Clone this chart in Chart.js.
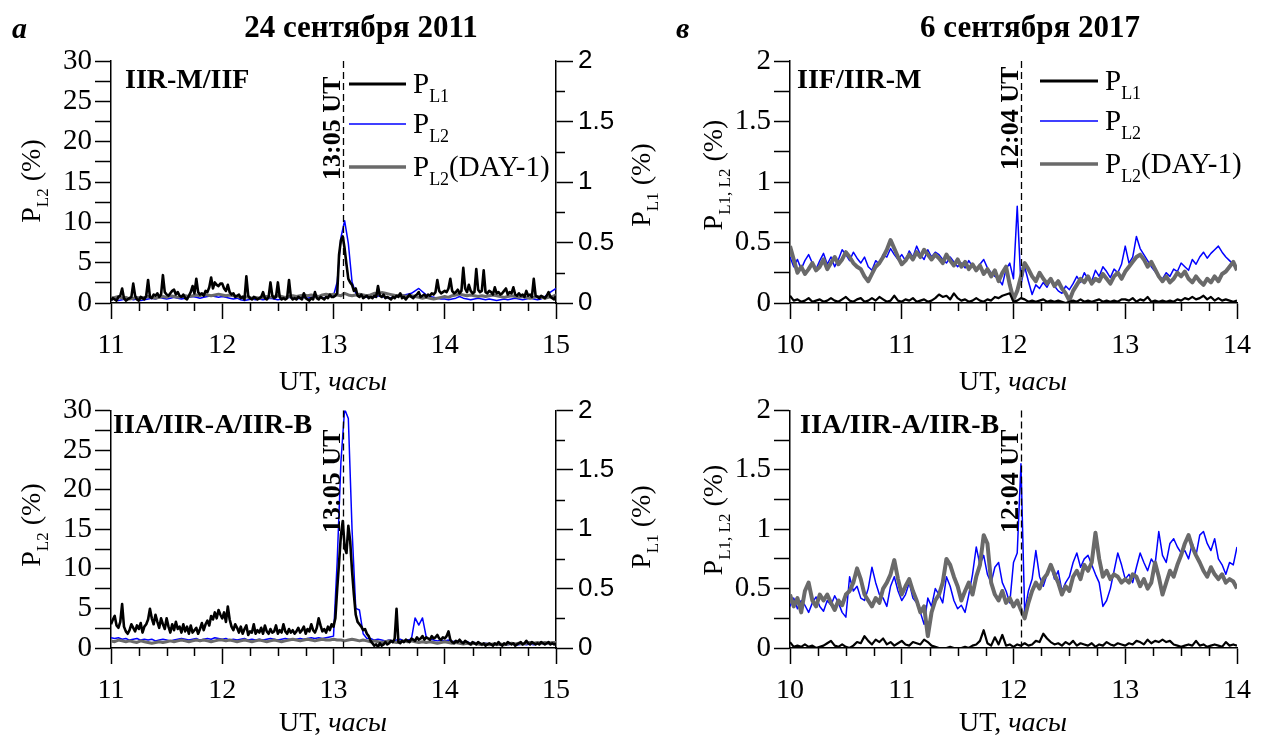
<!DOCTYPE html>
<html>
<head>
<meta charset="utf-8">
<script src="https://cdn.jsdelivr.net/npm/chart.js@4.4.0/dist/chart.umd.min.js"></script>
<style>
body{margin:0;background:#fff;}
#wrap{position:relative;width:1264px;height:740px;overflow:hidden;}
canvas{position:absolute;}
</style>
</head>
<body>
<div id="wrap">
<canvas id="cA" width="660" height="400" style="left:0;top:0"></canvas>
<canvas id="cB" width="660" height="350" style="left:0;top:390px"></canvas>
<canvas id="cV" width="604" height="400" style="left:660px;top:0"></canvas>
<canvas id="cG" width="604" height="350" style="left:660px;top:390px"></canvas>
</div>
<script>
const SERIF='"Liberation Serif","Times New Roman",serif';
const SANS='"Liberation Sans",Arial,sans-serif';
const SPAN=4; // every panel covers 4 hours, samples evenly spaced

// 24 сентября 2011, 11-15 UT, IIR-M/IIF. P_L1 in % (right axis, 1-min samples)
const aL1=[
0.02,0.04,0.03,0.02,0.05,0.06,0.12,0.04,0.02,0.03,
0.04,0.05,0.16,0.06,0.03,0.02,0.05,0.04,0.03,0.06,
0.19,0.05,0.04,0.07,0.06,0.08,0.05,0.07,0.23,0.09,
0.07,0.06,0.08,0.10,0.11,0.07,0.09,0.06,0.05,0.07,
0.04,0.03,0.06,0.09,0.14,0.08,0.20,0.09,0.07,0.08,
0.06,0.10,0.09,0.13,0.21,0.12,0.17,0.15,0.14,0.16,
0.16,0.12,0.10,0.15,0.09,0.07,0.08,0.05,0.06,0.07,
0.04,0.05,0.03,0.22,0.06,0.04,0.03,0.05,0.04,0.03,
0.04,0.05,0.09,0.04,0.03,0.05,0.17,0.06,0.04,0.05,
0.17,0.05,0.03,0.04,0.03,0.04,0.19,0.05,0.03,0.04,
0.03,0.05,0.04,0.03,0.08,0.04,0.03,0.02,0.04,0.03,
0.09,0.04,0.03,0.05,0.04,0.03,0.05,0.04,0.07,0.05,
0.05,0.06,0.08,0.40,0.52,0.55,0.45,0.32,0.20,0.17,
0.15,0.10,0.12,0.06,0.05,0.07,0.04,0.05,0.06,0.04,
0.05,0.04,0.06,0.05,0.14,0.06,0.05,0.07,0.04,0.05,
0.04,0.03,0.05,0.04,0.06,0.05,0.08,0.04,0.05,0.03,
0.05,0.07,0.05,0.04,0.06,0.07,0.09,0.05,0.06,0.07,
0.05,0.07,0.06,0.08,0.07,0.09,0.19,0.10,0.08,0.09,
0.10,0.09,0.12,0.20,0.10,0.08,0.09,0.11,0.08,0.10,
0.29,0.12,0.09,0.15,0.10,0.08,0.09,0.28,0.11,0.09,
0.10,0.27,0.09,0.08,0.10,0.09,0.07,0.13,0.08,0.09,
0.07,0.08,0.10,0.12,0.07,0.09,0.08,0.13,0.07,0.06,
0.08,0.06,0.07,0.05,0.10,0.06,0.07,0.05,0.20,0.06,
0.05,0.04,0.06,0.05,0.04,0.06,0.09,0.05,0.04,0.03,
0.06];
// P_L2 in % (left axis, 2-min samples)
const aL2=[
0.4,0.5,0.3,0.4,0.5,0.6,0.4,0.5,0.3,0.4,
0.5,0.6,0.5,0.7,0.6,0.5,0.6,0.7,0.6,0.5,
0.6,0.7,0.8,0.7,0.6,0.7,0.8,0.9,0.8,0.7,
0.8,0.7,0.6,0.5,0.6,0.4,0.3,0.4,0.5,0.4,
0.5,0.4,0.5,0.6,0.5,0.4,0.5,0.6,0.7,0.6,
0.5,0.6,0.7,0.6,0.7,0.8,0.7,0.6,0.7,0.8,
0.9,2.6,8.1,10.2,7.4,2.6,1.2,0.9,0.8,0.7,
0.8,0.7,0.9,0.8,0.7,0.6,0.7,0.8,0.9,1.0,
1.1,1.2,1.5,1.8,1.4,1.0,0.8,0.7,0.6,0.5,
0.5,0.4,0.5,0.6,0.8,0.6,0.5,0.4,0.5,0.6,
0.5,0.4,0.5,0.4,0.3,0.4,0.5,0.4,0.5,0.6,
0.5,0.4,0.5,0.6,0.5,0.4,0.5,0.8,1.2,1.5,
1.8];
const aL2prev=[
0.6,0.7,0.8,0.6,0.7,0.5,0.6,0.7,0.6,0.7,
0.8,0.7,0.6,0.7,0.8,0.7,0.9,0.8,0.7,0.8,
0.9,0.8,0.9,1.0,0.9,1.1,1.0,0.9,1.0,1.1,
1.0,0.9,1.0,0.9,0.8,0.7,0.8,0.7,0.6,0.7,
0.6,0.7,0.8,0.7,0.8,0.9,0.8,0.7,0.8,0.9,
0.8,0.9,1.0,0.9,1.0,0.9,0.8,1.0,1.1,1.0,
1.1,1.0,0.9,1.2,1.0,0.9,1.0,1.1,1.0,0.9,
1.0,1.2,1.1,1.3,1.2,1.1,1.0,0.9,1.0,0.9,
0.8,0.9,0.8,0.7,0.6,0.7,0.6,0.5,0.6,0.7,
0.8,0.7,0.9,1.0,1.1,1.0,0.9,1.0,0.9,0.8,
0.9,0.8,0.9,1.0,0.9,0.8,0.7,0.8,0.9,0.8,
0.7,0.8,0.7,0.6,0.7,0.8,0.7,0.6,0.7,0.8,
1.0];

// 24 сентября 2011, IIA/IIR-A/IIR-B (P_L1 1-min samples)
const bL1=[
0.20,0.24,0.27,0.19,0.17,0.22,0.37,0.18,0.14,0.12,
0.15,0.20,0.17,0.14,0.19,0.16,0.21,0.13,0.18,0.20,
0.24,0.33,0.25,0.20,0.28,0.22,0.17,0.25,0.20,0.16,
0.25,0.18,0.13,0.20,0.15,0.22,0.16,0.18,0.13,0.20,
0.14,0.18,0.12,0.19,0.13,0.15,0.17,0.12,0.16,0.21,
0.15,0.20,0.23,0.19,0.27,0.24,0.30,0.25,0.32,0.28,
0.25,0.30,0.22,0.35,0.24,0.18,0.15,0.20,0.17,0.13,
0.18,0.12,0.16,0.19,0.11,0.14,0.13,0.20,0.12,0.15,
0.13,0.17,0.12,0.19,0.14,0.12,0.16,0.13,0.14,0.19,
0.12,0.15,0.13,0.20,0.14,0.12,0.16,0.13,0.15,0.12,
0.14,0.17,0.13,0.15,0.18,0.12,0.16,0.14,0.20,0.15,
0.13,0.17,0.25,0.19,0.14,0.16,0.13,0.18,0.15,0.20,
0.18,0.25,0.50,0.72,0.95,1.07,0.85,0.80,1.03,0.90,
0.65,0.45,0.28,0.22,0.20,0.18,0.15,0.16,0.12,0.10,
0.06,0.04,0.02,0.03,0.01,0.04,0.02,0.03,0.05,0.03,
0.04,0.06,0.05,0.08,0.33,0.05,0.04,0.06,0.05,0.07,
0.06,0.05,0.08,0.07,0.06,0.09,0.07,0.08,0.10,0.07,
0.09,0.08,0.07,0.10,0.08,0.09,0.11,0.08,0.07,0.09,
0.08,0.10,0.14,0.07,0.05,0.04,0.06,0.05,0.07,0.05,
0.04,0.06,0.05,0.04,0.03,0.05,0.04,0.03,0.05,0.04,
0.03,0.04,0.02,0.03,0.04,0.03,0.02,0.04,0.03,0.05,
0.03,0.02,0.04,0.03,0.05,0.04,0.03,0.04,0.02,0.03,
0.04,0.05,0.03,0.04,0.06,0.04,0.03,0.05,0.04,0.03,
0.04,0.03,0.05,0.04,0.03,0.04,0.05,0.03,0.04,0.03,
0.04];
const bL2=[
1.3,1.2,1.3,1.1,1.2,1.0,1.1,1.2,1.0,1.1,
1.0,1.1,0.9,1.0,1.1,1.0,0.9,1.0,1.1,1.2,
1.1,1.0,1.1,1.2,1.0,1.1,1.2,1.1,1.3,1.2,
1.1,1.2,1.0,1.1,1.0,1.1,1.2,1.0,1.1,1.0,
1.1,1.0,1.1,1.2,1.1,1.0,1.1,1.2,1.1,1.0,
1.1,1.2,1.1,1.2,1.3,1.2,1.3,1.2,1.3,1.4,
1.5,11.0,23.5,30.2,29.0,15.0,5.0,4.8,1.8,1.2,
1.2,1.0,1.1,1.0,0.9,1.0,0.9,1.0,1.1,0.9,
1.0,1.1,3.8,2.9,3.8,1.4,1.1,1.0,0.9,1.0,
0.9,1.0,0.8,0.9,0.8,0.7,0.8,0.6,0.7,0.6,
0.5,0.6,0.5,0.4,0.5,0.4,0.5,0.4,0.5,0.4,
0.4,0.5,0.4,0.5,0.4,0.5,0.6,0.5,0.6,0.5,
0.6];
const bL2prev=[
0.9,0.8,1.0,0.9,0.8,0.9,0.8,0.7,0.9,0.8,
0.7,0.6,0.7,0.8,0.7,0.8,0.9,0.8,0.9,1.0,
0.9,0.8,0.9,1.0,0.9,1.0,0.9,0.8,0.9,1.0,
1.0,0.9,1.0,0.9,0.8,0.9,1.0,0.9,0.8,0.9,
1.0,0.9,0.8,0.9,1.0,0.9,0.8,0.9,1.0,1.1,
1.0,0.9,1.0,1.1,1.0,0.9,1.0,1.1,1.0,1.0,
1.1,1.0,1.0,0.9,1.0,1.1,1.0,0.9,1.0,0.9,
0.8,0.9,0.8,0.7,0.8,0.9,0.8,0.7,0.8,0.9,
0.8,0.9,0.8,0.7,0.8,0.7,0.8,0.7,0.6,0.7,
0.8,0.7,0.6,0.7,0.6,0.5,0.6,0.5,0.6,0.5,
0.4,0.5,0.4,0.5,0.4,0.5,0.4,0.5,0.6,0.5,
0.6,0.5,0.6,0.7,0.6,0.7,0.6,0.7,0.6,0.7,
0.7];

// 6 сентября 2017, 10-14 UT, IIF/IIR-M (2-min samples)
const vL1=[
0.06,0.02,0.03,0.01,0.02,0.04,0.01,0.02,0.03,0.01,
0.02,0.04,0.02,0.01,0.03,0.05,0.02,0.01,0.03,0.04,
0.01,0.02,0.04,0.02,0.05,0.03,0.01,0.02,0.06,0.02,
0.01,0.03,0.02,0.04,0.01,0.02,0.03,0.01,0.02,0.04,
0.07,0.05,0.06,0.03,0.08,0.04,0.02,0.03,0.01,0.02,
0.04,0.02,0.01,0.03,0.02,0.05,0.04,0.06,0.07,0.08,
0.01,0.02,0.04,0.03,0.01,0.02,0.01,0.02,0.03,0.01,
0.02,0.01,0.02,0.01,0.00,0.01,0.02,0.01,0.03,0.01,
0.02,0.01,0.02,0.03,0.01,0.02,0.01,0.02,0.01,0.03,
0.03,0.02,0.04,0.01,0.03,0.02,0.05,0.01,0.02,0.01,
0.02,0.01,0.02,0.01,0.03,0.02,0.04,0.03,0.05,0.03,
0.04,0.06,0.03,0.05,0.02,0.04,0.02,0.03,0.02,0.01,
0.02];
const vL2=[
0.38,0.30,0.36,0.28,0.35,0.40,0.33,0.28,0.35,0.41,
0.32,0.38,0.30,0.36,0.44,0.40,0.35,0.42,0.37,0.33,
0.38,0.30,0.27,0.35,0.32,0.40,0.38,0.45,0.40,0.36,
0.40,0.35,0.43,0.38,0.47,0.40,0.36,0.44,0.38,0.42,
0.40,0.36,0.33,0.38,0.34,0.30,0.33,0.29,0.35,0.30,
0.27,0.32,0.36,0.29,0.25,0.22,0.20,0.15,0.28,0.33,
0.20,0.80,0.15,0.30,0.18,0.07,0.15,0.12,0.17,0.13,
0.19,0.14,0.10,0.08,0.14,0.11,0.16,0.22,0.17,0.25,
0.20,0.18,0.27,0.22,0.30,0.26,0.21,0.28,0.25,0.32,
0.47,0.33,0.38,0.55,0.45,0.40,0.35,0.30,0.26,0.22,
0.20,0.25,0.22,0.28,0.26,0.33,0.30,0.27,0.36,0.32,
0.38,0.42,0.37,0.41,0.44,0.47,0.42,0.38,0.35,0.32,
0.28];
const vL2prev=[
0.47,0.36,0.25,0.30,0.24,0.28,0.33,0.27,0.30,0.36,
0.28,0.33,0.38,0.32,0.36,0.42,0.38,0.33,0.30,0.28,
0.22,0.18,0.24,0.30,0.33,0.38,0.44,0.52,0.45,0.38,
0.32,0.35,0.40,0.36,0.42,0.38,0.44,0.40,0.36,0.40,
0.37,0.33,0.40,0.35,0.31,0.36,0.30,0.34,0.28,0.32,
0.27,0.31,0.24,0.28,0.22,0.27,0.18,0.25,0.30,0.15,
0.03,0.10,0.22,0.33,0.28,0.22,0.18,0.25,0.20,0.16,
0.20,0.14,0.18,0.12,0.08,0.02,0.10,0.15,0.20,0.17,
0.22,0.16,0.20,0.18,0.24,0.20,0.16,0.22,0.25,0.20,
0.26,0.30,0.34,0.38,0.40,0.36,0.30,0.34,0.28,0.22,
0.18,0.22,0.17,0.20,0.25,0.22,0.26,0.20,0.17,0.22,
0.18,0.15,0.20,0.17,0.22,0.18,0.24,0.26,0.30,0.34,
0.27];

// 6 сентября 2017, IIA/IIR-A/IIR-B
const gL1=[
0.05,0.01,0.02,0.01,0.03,0.01,0.02,0.00,0.01,0.02,
0.04,0.06,0.02,0.01,0.03,0.01,0.00,0.02,0.05,0.04,
0.10,0.06,0.03,0.07,0.05,0.08,0.03,0.05,0.02,0.04,
0.06,0.03,0.02,0.05,0.04,0.03,0.07,0.05,0.02,0.01,
0.00,0.00,0.00,0.01,0.00,0.00,0.00,0.01,0.00,0.02,
0.03,0.06,0.15,0.04,0.02,0.09,0.03,0.11,0.02,0.03,
0.01,0.03,0.02,0.04,0.02,0.03,0.06,0.05,0.12,0.08,
0.05,0.03,0.04,0.02,0.05,0.03,0.06,0.02,0.04,0.03,
0.02,0.04,0.01,0.03,0.02,0.05,0.03,0.02,0.04,0.03,
0.02,0.04,0.03,0.06,0.05,0.03,0.07,0.04,0.06,0.05,
0.07,0.05,0.06,0.03,0.02,0.01,0.02,0.03,0.02,0.06,
0.02,0.03,0.01,0.02,0.03,0.02,0.01,0.05,0.02,0.03,
0.02];
const gL2=[
0.35,0.42,0.33,0.40,0.36,0.30,0.38,0.43,0.35,0.31,
0.40,0.36,0.44,0.38,0.30,0.26,0.60,0.48,0.52,0.42,
0.40,0.50,0.68,0.55,0.45,0.42,0.35,0.52,0.60,0.48,
0.40,0.45,0.55,0.42,0.38,0.30,0.20,0.42,0.35,0.50,
0.45,0.38,0.60,0.52,0.40,0.33,0.36,0.30,0.45,0.62,
0.85,0.70,0.78,0.62,0.55,0.68,0.72,0.55,0.48,0.38,
0.72,0.80,1.55,0.30,0.48,0.58,0.82,0.60,0.52,0.62,
0.70,0.58,0.65,0.48,0.55,0.60,0.72,0.80,0.68,0.75,
0.78,0.70,0.62,0.55,0.35,0.40,0.50,0.65,0.80,0.70,
0.58,0.62,0.55,0.68,0.80,0.72,0.65,0.75,0.70,0.98,
0.78,0.72,0.88,0.92,0.85,0.80,0.82,0.75,0.88,0.78,
0.95,0.98,0.88,0.82,0.92,0.75,0.70,0.62,0.72,0.70,
0.85];
const gL2prev=[
0.45,0.35,0.42,0.30,0.48,0.55,0.40,0.35,0.45,0.40,
0.45,0.38,0.32,0.40,0.36,0.45,0.48,0.55,0.67,0.58,
0.45,0.40,0.35,0.42,0.38,0.50,0.55,0.62,0.74,0.58,
0.45,0.52,0.58,0.48,0.40,0.30,0.35,0.10,0.30,0.40,
0.45,0.55,0.75,0.70,0.60,0.52,0.40,0.48,0.55,0.45,
0.60,0.70,0.95,0.88,0.55,0.45,0.40,0.48,0.38,0.42,
0.35,0.40,0.32,0.25,0.38,0.48,0.55,0.50,0.58,0.62,
0.70,0.62,0.55,0.45,0.52,0.48,0.60,0.65,0.58,0.70,
0.65,0.72,0.97,0.75,0.60,0.65,0.58,0.62,0.60,0.55,
0.58,0.55,0.62,0.60,0.52,0.58,0.50,0.55,0.72,0.60,
0.45,0.55,0.65,0.60,0.70,0.78,0.88,0.95,0.85,0.78,
0.72,0.65,0.60,0.68,0.62,0.58,0.62,0.55,0.58,0.56,
0.50];

const legendNames=[
  [['P',''],['L1','s']],
  [['P',''],['L2','s']],
  [['P',''],['L2','s'],['(DAY-1)','']]
];

function pts(vals,t0){
  const dt=SPAN/(vals.length-1);
  return vals.map((v,i)=>({x:t0+i*dt,y:v}));
}

// text with subscripts / italics; (x,y) is the baseline start, rotated texts read upward
function rich(ctx,parts,x,y,o){
  const size=o.size,fam=o.family||SERIF,wt=o.bold?'bold ':'';
  const fontOf=k=>(k==='i'||o.italic?'italic ':'')+wt+(k==='s'?Math.round(size*0.62):size)+'px '+fam;
  let w=0;
  parts.forEach(p=>{ctx.font=fontOf(p[1]);w+=ctx.measureText(p[0]).width;});
  ctx.save();
  ctx.translate(x,y);
  if(o.rot)ctx.rotate(-Math.PI/2);
  let cx=o.align==='center'?-w/2:o.align==='right'?-w:0;
  ctx.textBaseline='alphabetic';
  ctx.fillStyle='#000';
  parts.forEach(p=>{
    ctx.font=fontOf(p[1]);
    ctx.fillText(p[0],cx,p[1]==='s'?size*0.3:0);
    cx+=ctx.measureText(p[0]).width;
  });
  ctx.restore();
}

const decor={
  id:'decor',
  afterDraw(chart,args,o){
    const ctx=chart.ctx,ca=chart.chartArea,xs=chart.scales.x;
    ctx.save();
    ctx.strokeStyle='#000';
    ctx.lineWidth=1.5;
    // short ticks between the hours
    for(let v=xs.min+0.25;v<xs.max;v+=0.25){
      if(Math.abs(v-Math.round(v))<1e-6)continue;
      const px=Math.round(xs.getPixelForValue(v))+0.5;
      ctx.beginPath();ctx.moveTo(px,ca.bottom);ctx.lineTo(px,ca.bottom+8);ctx.stroke();
    }
    const r=chart.scales.y1;
    if(r){
      for(let v=0.25;v<r.max;v+=0.5){
        const py=Math.round(r.getPixelForValue(v))+0.5;
        ctx.beginPath();ctx.moveTo(ca.right,py);ctx.lineTo(ca.right+9,py);ctx.stroke();
      }
    }
    // event time
    const mx=Math.round(xs.getPixelForValue(o.mark))+0.5;
    ctx.lineWidth=1.3;
    ctx.setLineDash([7,4]);
    ctx.beginPath();ctx.moveTo(mx,ca.top);ctx.lineTo(mx,ca.bottom);ctx.stroke();
    ctx.setLineDash([]);
    rich(ctx,[[o.markText,'']],mx-4,o.markBottom-o.oy,{size:26,bold:true,rot:true});
    rich(ctx,[[o.tag,'']],o.tagX-o.ox,o.tagY-o.oy,{size:28,bold:true});
    if(o.legend){
      const L=o.legend;
      chart.data.datasets.forEach((ds,i)=>{
        const y=L.y[i]-o.oy;
        ctx.strokeStyle=ds.borderColor;
        ctx.lineWidth=ds.legendWidth;
        ctx.beginPath();ctx.moveTo(L.x0-o.ox,y);ctx.lineTo(L.x1-o.ox,y);ctx.stroke();
        rich(ctx,legendNames[i],L.tx-o.ox,y+9,{size:29});
      });
    }
    o.texts.forEach(t=>rich(ctx,t.parts,t.x-o.ox,t.y-o.oy,t));
    ctx.restore();
  }
};

function axisX(min,max,h){
  return {type:'linear',min:min,max:max,
    ticks:{stepSize:1,autoSkip:false,maxRotation:0,padding:10,color:'#000',font:{family:SERIF,size:28}},
    grid:{drawOnChartArea:false,tickLength:16,tickColor:'#000',tickWidth:1.5},
    border:{color:'#000',width:1.5},
    afterFit:s=>{s.height=h;}};
}
function axisLeft(max,step,major,w){
  return {position:'left',min:0,max:max,
    ticks:{stepSize:step,autoSkip:false,padding:3,color:'#000',font:{family:SERIF,size:29},
      callback:v=>Math.abs(v/major-Math.round(v/major))<1e-6?String(v):''},
    grid:{drawOnChartArea:false,tickLength:16,tickColor:'#000',tickWidth:1.5},
    border:{color:'#000',width:1.5},
    afterFit:s=>{s.width=w;}};
}
function axisRight(w){
  return {position:'right',min:0,max:2,
    ticks:{stepSize:0.5,autoSkip:false,padding:5,color:'#000',font:{family:SANS,size:26},
      callback:v=>String(v)},
    grid:{drawOnChartArea:false,tickLength:17,tickColor:'#000',tickWidth:1.5},
    border:{color:'#000',width:1.5},
    afterFit:s=>{s.width=w;}};
}

function series(l1,l2,l2prev,t0,twoAxes,blackW,grayW){
  return [
    {label:'P_L1',data:pts(l1,t0),yAxisID:twoAxes?'y1':'y',borderColor:'#000',borderWidth:blackW,legendWidth:3,order:1},
    {label:'P_L2',data:pts(l2,t0),yAxisID:'y',borderColor:'#0000ff',borderWidth:1.5,legendWidth:1.5,order:3},
    {label:'P_L2(DAY-1)',data:pts(l2prev,t0),yAxisID:'y',borderColor:'#6a6a6a',borderWidth:grayW,legendWidth:3.5,order:2}
  ];
}

function panel(id,datasets,scales,padTop,padRight,deco){
  new Chart(document.getElementById(id),{
    type:'line',
    data:{datasets:datasets},
    options:{
      responsive:false,animation:false,
      layout:{padding:{top:padTop,right:padRight,left:0,bottom:0}},
      elements:{point:{radius:0},line:{tension:0,borderJoinStyle:'round'}},
      plugins:{legend:{display:false},tooltip:{enabled:false},decor:deco},
      scales:scales
    },
    plugins:[decor]
  });
}

const pL2=[['P',''],['L2','s'],[' (%)','']];
const pL1=[['P',''],['L1','s'],[' (%)','']];
const pL12=[['P',''],['L1, L2','s'],[' (%)','']];
const utTitle=[['UT, ',''],['часы','i']];

panel('cA',series(aL1,aL2,aL2prev,11,true,2.6,3),
  {x:axisX(11,15,97),y:axisLeft(30,2.5,5,111),y1:axisRight(104)},61,0,
  {ox:0,oy:0,mark:13+5/60,markText:'13:05 UT',markBottom:180,tag:'IIR-M/IIF',tagX:125,tagY:88,
   legend:{x0:349,x1:406,tx:413,y:[84,124,167]},
   texts:[
    {parts:[['24 сентября 2011','']],x:361,y:37,size:31,bold:true,align:'center'},
    {parts:[['а','']],x:12,y:38,size:30,bold:true,italic:true},
    {parts:pL2,x:40,y:181,size:28,rot:true,align:'center'},
    {parts:pL1,x:650,y:185,size:28,rot:true,align:'center'},
    {parts:utTitle,x:333,y:390,size:28,align:'center'}
   ]});

panel('cB',series(bL1,bL2,bL2prev,11,true,2.6,3),
  {x:axisX(11,15,92),y:axisLeft(30,2.5,5,111),y1:axisRight(104)},16,0,
  {ox:0,oy:390,mark:13+5/60,markText:'13:05 UT',markBottom:533,tag:'IIA/IIR-A/IIR-B',tagX:113,tagY:433,
   texts:[
    {parts:[['б','']],x:12,y:383,size:30,bold:true,italic:true},
    {parts:pL2,x:40,y:525,size:28,rot:true,align:'center'},
    {parts:pL1,x:650,y:527,size:28,rot:true,align:'center'},
    {parts:utTitle,x:333,y:731,size:28,align:'center'}
   ]});

panel('cV',series(vL1,vL2,vL2prev,10,false,2.2,4),
  {x:axisX(10,14,97),y:axisLeft(2,0.25,0.5,130)},61,27,
  {ox:660,oy:0,mark:12+4/60,markText:'12:04 UT',markBottom:170,tag:'IIF/IIR-M',tagX:797,tagY:88,
   legend:{x0:1040,x1:1098,tx:1105,y:[81,121,164]},
   texts:[
    {parts:[['6 сентября 2017','']],x:1030,y:37,size:31,bold:true,align:'center'},
    {parts:[['в','']],x:676,y:38,size:30,bold:true,italic:true},
    {parts:pL12,x:722,y:175,size:28,rot:true,align:'center'},
    {parts:utTitle,x:1013,y:390,size:28,align:'center'}
   ]});

panel('cG',series(gL1,gL2,gL2prev,10,false,2.2,4),
  {x:axisX(10,14,92),y:axisLeft(2,0.25,0.5,130)},16,27,
  {ox:660,oy:390,mark:12+4/60,markText:'12:04 UT',markBottom:533,tag:'IIA/IIR-A/IIR-B',tagX:800,tagY:433,
   texts:[
    {parts:[['г','']],x:678,y:383,size:30,bold:true,italic:true},
    {parts:pL12,x:722,y:520,size:28,rot:true,align:'center'},
    {parts:utTitle,x:1013,y:731,size:28,align:'center'}
   ]});
</script>
</body>
</html>
